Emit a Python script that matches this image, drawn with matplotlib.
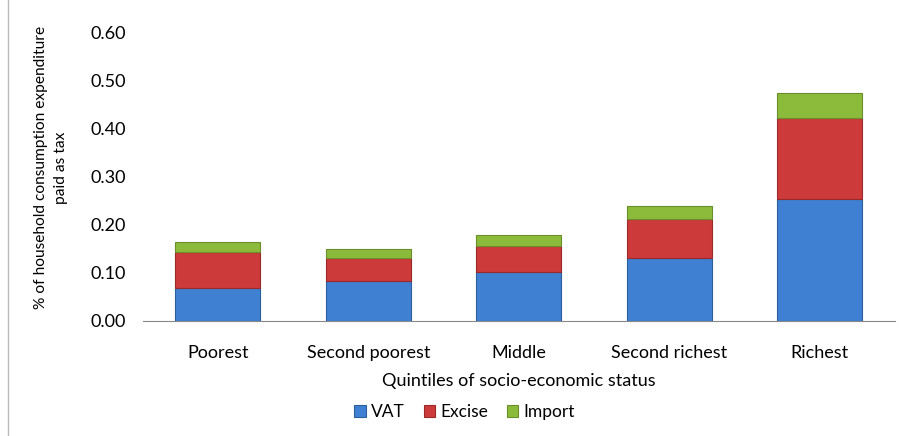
import matplotlib.pyplot as plt
import numpy as np

# Data
quintiles = ['Poorest', 'Second poorest', 'Middle', 'Second richest', 'Richest']
vat = [0.069, 0.083, 0.102, 0.131, 0.254]
excise = [0.075, 0.048, 0.054, 0.081, 0.169]
imports = [0.021, 0.019, 0.023, 0.028, 0.052]
yticks = [0.0, 0.1, 0.2, 0.3, 0.4, 0.5, 0.6]

plt.rcParams['font.family'] = ['Lato', 'DejaVu Sans']

fig = plt.figure(figsize=(9.03, 4.36), dpi=100)
ax = fig.add_axes([0.158, 0.264, 0.833, 0.661])

x = np.arange(len(quintiles))
w = 0.565
vat_a = np.array(vat)
exc_a = np.array(excise)
ax.bar(x, vat, w, color='#3f80d2', edgecolor='#2c5f9e', linewidth=0.8, label='VAT')
ax.bar(x, excise, w, bottom=vat_a, color='#cc3a3a', edgecolor='#9a2a2a', linewidth=0.8, label='Excise')
ax.bar(x, imports, w, bottom=vat_a + exc_a, color='#8cbb3c', edgecolor='#6a8f2a', linewidth=0.8, label='Import')

ax.set_xlim(-0.5, len(quintiles) - 0.5)
ax.set_ylim(0, 0.6)
ax.set_yticks(yticks)
ax.set_yticklabels(['%.2f' % t for t in yticks], fontsize=13)
ax.set_xticks(x)
ax.set_xticklabels(quintiles, fontsize=13)
ax.tick_params(axis='both', length=0, pad=12)
ax.tick_params(axis='x', pad=17)

for s in ['top', 'right', 'left']:
    ax.spines[s].set_visible(False)
ax.spines['bottom'].set_color('#888888')

ax.set_xlabel('Quintiles of socio-economic status', fontsize=13, labelpad=9)
fig.text(0.056, 0.615, '% of household consumption expenditure\npaid as tax',
         rotation=90, ha='center', va='center', fontsize=11.2, linespacing=1.55)

ax.legend(loc='center', bbox_to_anchor=(0.428, -0.316), ncol=3, frameon=False,
          fontsize=12.5, handlelength=0.65, handleheight=0.65, handletextpad=0.3,
          columnspacing=1.1)

# light border around the chart area
fig.add_artist(plt.Line2D([0.009, 0.009], [0.0, 1.0], color='#bbbbbb', lw=1))

fig.savefig('out.png', dpi=100)
